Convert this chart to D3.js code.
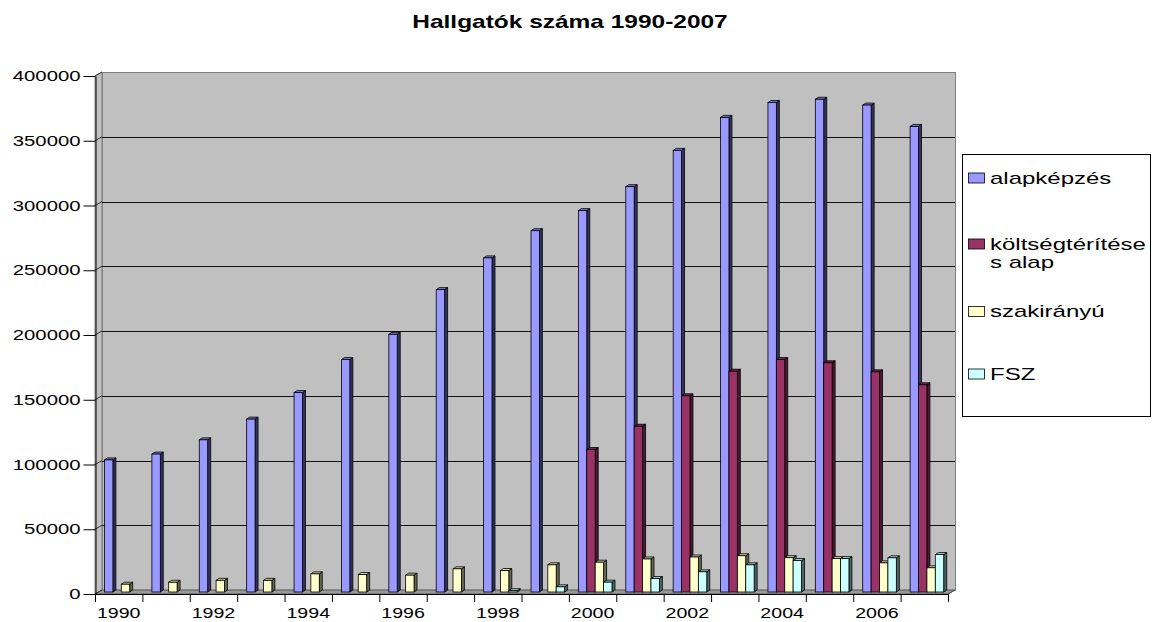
<!DOCTYPE html>
<html>
<head>
<meta charset="utf-8">
<script src="https://cdn.jsdelivr.net/npm/d3@7"></script>
<style>
    body { margin: 0; background: #fff; }
    text { font-family: Arial, "Liberation Sans", sans-serif; fill: #000; }
</style>
</head>
<body>
<svg id="chart" width="1152" height="622"></svg>
<script>
// data
const years = [1990, 1991, 1992, 1993, 1994, 1995, 1996, 1997, 1998, 1999,
               2000, 2001, 2002, 2003, 2004, 2005, 2006, 2007];
const labelYears = [1990, 1992, 1994, 1996, 1998, 2000, 2002, 2004, 2006];
const alapkepzes = [102000, 106500, 117500, 133500, 154000, 179500, 199000, 233500, 258000, 279000,
                    294500, 313000, 341000, 366500, 378000, 380500, 376000, 359500];
const koltsegteritesesAlap = [0, 0, 0, 0, 0, 0, 0, 0, 0, 0,
                              110000, 128000, 151500, 170500, 179500, 177000, 170000, 160000];
const szakiranyu = [6000, 7500, 9000, 9000, 14000, 13500, 13000, 17900, 16600, 21000,
                    23000, 25500, 27000, 28000, 26500, 25800, 22500, 18700];
const fsz = [0, 0, 0, 0, 0, 0, 0, 0, 1000, 4000,
             7600, 10400, 15600, 21000, 24300, 25800, 26400, 28900];
const seriesNames = ['alapképzés', 'költségtérítéses alap', 'szakirányú', 'FSZ'];
const legendLines = [['alapképzés'], ['költségtérítése', 's alap'], ['szakirányú'], ['FSZ']];
const yTicks = [0, 50000, 100000, 150000, 200000, 250000, 300000, 350000, 400000];

const series = [alapkepzes, koltsegteritesesAlap, szakiranyu, fsz];
const colors = [
    {front: '#9999ff', top: '#7b7bd0', side: '#33335e'},
    {front: '#993366', top: '#7a2952', side: '#4a1a33'},
    {front: '#ffffcc', top: '#d0d0a6', side: '#66664f'},
    {front: '#ccffff', top: '#a6d0d0', side: '#4d6666'}
];

const svg = d3.select('#chart');

// front plane of the 3d box, and the depth offset to the back wall
const plotLeft = 95, plotRight = 948, plotBottom = 594, plotTop = 76;
const depth = {x: 7, y: -4};
const barDepth = {x: 3, y: -2};
const textStretch = 1.4;

const x = d3.scaleBand().domain(years).range([plotLeft, plotRight]);
const sub = d3.scaleBand().domain(seriesNames).range([9.5, 43.1]);
const yFront = d3.scaleLinear().domain([0, 400000]).range([plotBottom, plotTop]);
const yBack = d3.scaleLinear().domain([0, 400000]).range([plotBottom + depth.y, plotTop + depth.y]);
const yBar = d3.scaleLinear().domain([0, 400000]).range([plotBottom - 2, plotTop - 2]);

// title
svg.append('text')
    .attr('transform', 'translate(570,28) scale(1.36,1)')
    .attr('text-anchor', 'middle')
    .attr('font-size', 18)
    .attr('font-weight', 'bold')
    .text('Hallgatók száma 1990-2007');

// walls
svg.append('rect')
    .attr('x', plotLeft + depth.x + 0.5).attr('y', yBack(400000) + 0.5)
    .attr('width', plotRight - plotLeft).attr('height', yBack(0) - yBack(400000))
    .attr('fill', '#c0c0c0').attr('stroke', '#808080');

svg.append('polygon')
    .attr('points', [[plotLeft, yFront(400000)], [plotLeft + depth.x, yBack(400000)],
                     [plotLeft + depth.x, yBack(0)], [plotLeft, yFront(0)]].join(' '))
    .attr('fill', '#c0c0c0').attr('stroke', '#808080');

svg.append('polygon')
    .attr('points', [[plotLeft, yFront(0)], [plotRight, yFront(0)],
                     [plotRight + depth.x, yBack(0)], [plotLeft + depth.x, yBack(0)]].join(' '))
    .attr('fill', '#9a9a9a').attr('stroke', '#555');

// gridlines on back wall + left wall
const grid = svg.append('g').attr('class', 'grid');
grid.selectAll('.gb')
    .data(yTicks.filter(d => d > 0 && d < 400000))
    .enter().append('line')
    .attr('x1', plotLeft + depth.x).attr('x2', plotRight + depth.x)
    .attr('y1', d => Math.round(yBack(d)) + 0.5).attr('y2', d => Math.round(yBack(d)) + 0.5)
    .attr('stroke', '#111').attr('stroke-width', 1);
grid.selectAll('.gl')
    .data(yTicks)
    .enter().append('line')
    .attr('x1', plotLeft).attr('x2', plotLeft + depth.x)
    .attr('y1', d => yFront(d)).attr('y2', d => yBack(d))
    .attr('stroke', '#333').attr('stroke-width', 1);

// bars, drawn left to right so later bars hide earlier sides
const bars = svg.append('g').attr('class', 'bars');
years.forEach((yr, j) => {
    series.forEach((vals, i) => {
        const v = vals[j];
        if (!v) return;
        const x0 = x(yr) + sub(seriesNames[i]);
        const w = sub.bandwidth();
        const yt = yBar(v), yb = yBar(0);
        const c = colors[i];
        const g = bars.append('g');
        g.append('polygon')
            .attr('points', [[x0 + w, yt], [x0 + w + barDepth.x, yt + barDepth.y],
                             [x0 + w + barDepth.x, yb + barDepth.y], [x0 + w, yb]].join(' '))
            .attr('fill', c.side).attr('stroke', '#000').attr('stroke-width', 0.8);
        g.append('polygon')
            .attr('points', [[x0, yt], [x0 + barDepth.x, yt + barDepth.y],
                             [x0 + w + barDepth.x, yt + barDepth.y], [x0 + w, yt]].join(' '))
            .attr('fill', c.top).attr('stroke', '#000').attr('stroke-width', 0.8);
        g.append('rect')
            .attr('x', x0).attr('y', yt)
            .attr('width', w).attr('height', yb - yt)
            .attr('fill', c.front).attr('stroke', '#000').attr('stroke-width', 0.8);
    });
});

// y axis
const yAxis = svg.append('g')
    .attr('transform', 'translate(' + (plotLeft + 0.5) + ',0)')
    .call(d3.axisLeft(yFront).tickValues(yTicks).tickSize(12).tickSizeOuter(0)
        .tickPadding(3).tickFormat(d3.format('d')));
yAxis.attr('font-family', null).attr('font-size', 14.5);
yAxis.selectAll('path, line').attr('stroke', '#000');
yAxis.selectAll('text')
    .attr('x', -15 / textStretch)
    .attr('transform', 'scale(' + textStretch + ',1)');

// x axis line with the right-hand depth edge
svg.append('line')
    .attr('x1', plotLeft).attr('x2', plotRight)
    .attr('y1', plotBottom + 0.5).attr('y2', plotBottom + 0.5)
    .attr('stroke', '#000');
svg.append('line')
    .attr('x1', plotRight).attr('x2', plotRight + depth.x)
    .attr('y1', plotBottom).attr('y2', plotBottom + depth.y)
    .attr('stroke', '#555');

// tick marks between categories
const xTickScale = d3.scaleLinear().domain([0, years.length]).range([plotLeft, plotRight]);
const xTicks = svg.append('g')
    .attr('transform', 'translate(0,' + plotBottom + ')')
    .call(d3.axisBottom(xTickScale).tickValues(d3.range(years.length + 1))
        .tickSize(8).tickSizeOuter(0).tickFormat(''));
xTicks.select('.domain').remove();
xTicks.selectAll('line').attr('stroke', '#000');

// year labels
const xLabels = svg.append('g')
    .attr('transform', 'translate(0,' + plotBottom + ')')
    .call(d3.axisBottom(x).tickValues(labelYears).tickSize(0).tickPadding(14));
xLabels.select('.domain').remove();
xLabels.attr('font-family', null).attr('font-size', 14);
xLabels.selectAll('text')
    .attr('transform', 'scale(' + textStretch + ',1)');

// legend
const legend = svg.append('g').attr('class', 'legend');
legend.append('rect')
    .attr('x', 962.5).attr('y', 154.5).attr('width', 188).attr('height', 262)
    .attr('fill', '#fff').attr('stroke', '#000');
const legendY = [178, 244, 311.5, 374];
seriesNames.forEach((name, i) => {
    legend.append('rect')
        .attr('x', 968.5).attr('y', legendY[i] - 5)
        .attr('width', 16).attr('height', 10)
        .attr('fill', colors[i].front).attr('stroke', '#000').attr('stroke-width', 0.8);
    legendLines[i].forEach((line, k) => {
        legend.append('text')
            .attr('transform', 'translate(990,' + (legendY[i] + 5.5 + k * 18) + ') scale(1.5,1)')
            .attr('font-size', 16)
            .text(line);
    });
});
</script>
</body>
</html>
